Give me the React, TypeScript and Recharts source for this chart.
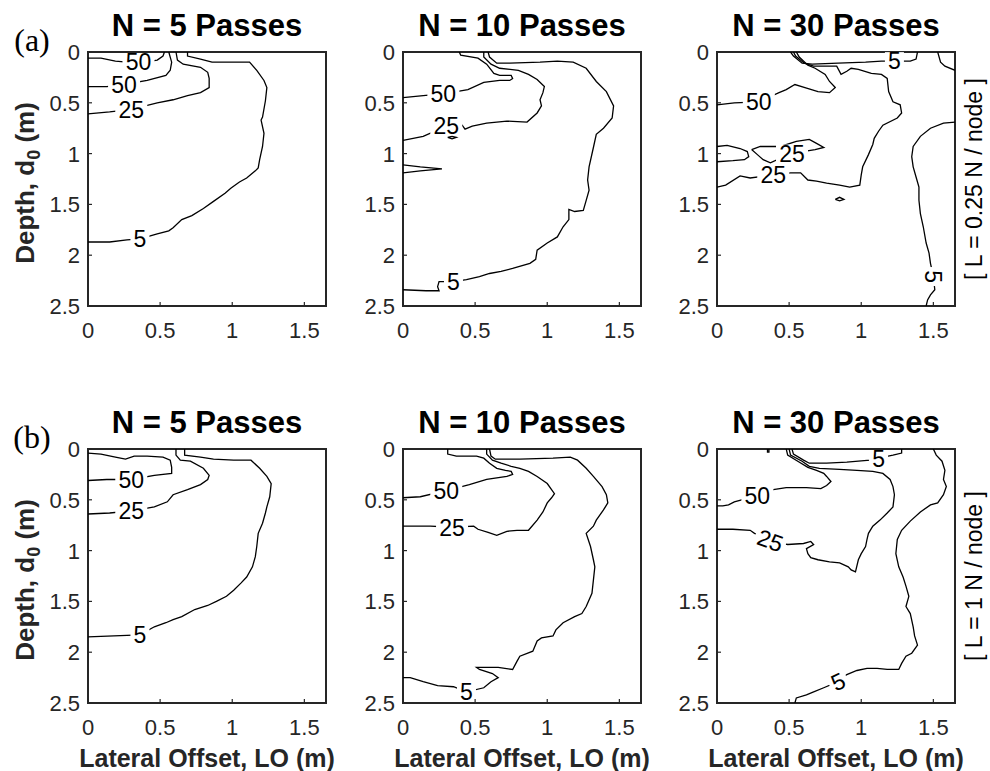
import React from 'react';
import { ReferenceArea, Scatter, ScatterChart, XAxis, YAxis } from 'recharts';

// ---- contour data, (lateral offset m, depth m) ----
const xTicks = [0, 0.5, 1, 1.5];
const yTicks = [0, 0.5, 1, 1.5, 2, 2.5];
const titles = ['N = 5 Passes', 'N = 10 Passes', 'N = 30 Passes'];
const rowTags = ['(a)', '(b)'];
const rowNotes = ['[ L = 0.25 N / node ]', '[ L = 1 N / node ]'];

// row (a), N = 5
const a1_50a = [[0, 0.06], [0.09, 0.06], [0.19, 0.09], [0.35, 0.11], [0.48, 0.08], [0.52, 0.04], [0.53, 0]];
const a1_50b = [[0.56, 0], [0.58, 0.1], [0.57, 0.18], [0.54, 0.23], [0.41, 0.28], [0.25, 0.32], [0.13, 0.34], [0, 0.34]];
const a1_25 = [[0.61, 0], [0.62, 0.08], [0.66, 0.12], [0.78, 0.15], [0.83, 0.2], [0.84, 0.26], [0.84, 0.35], [0.78, 0.4], [0.69, 0.43], [0.59, 0.47], [0.48, 0.5], [0.3, 0.565], [0.15, 0.59], [0, 0.61]];
const a1_5 = [[0.69, 0], [0.69, 0.04], [0.78, 0.07], [0.86, 0.1], [1.01, 0.1], [1.12, 0.1], [1.17, 0.18], [1.22, 0.28], [1.24, 0.35], [1.23, 0.48], [1.21, 0.64], [1.2, 0.67], [1.22, 0.8], [1.21, 0.93], [1.19, 1.06], [1.18, 1.14], [1.16, 1.17], [1.1, 1.24], [1.05, 1.28], [0.99, 1.34], [0.95, 1.39], [0.87, 1.47], [0.8, 1.54], [0.72, 1.61], [0.65, 1.65], [0.59, 1.73], [0.56, 1.76], [0.48, 1.79], [0.36, 1.84], [0.27, 1.85], [0.15, 1.87], [0, 1.87]];
const a1_labels = [[0.35, 0.1, '50', 0], [0.25, 0.32, '50', 0], [0.3, 0.565, '25', 0], [0.36, 1.84, '5', 0]];

// row (a), N = 10
const a2_50 = [[0.39, 0], [0.4, 0.03], [0.52, 0.06], [0.58, 0.12], [0.63, 0.21], [0.67, 0.23], [0.75, 0.23], [0.76, 0.26], [0.74, 0.28], [0.67, 0.28], [0.56, 0.3], [0.45, 0.37], [0.29, 0.41], [0.14, 0.43], [0, 0.45]];
const a2_25 = [[0.56, 0], [0.56, 0.05], [0.61, 0.12], [0.67, 0.16], [0.8, 0.18], [0.87, 0.22], [0.93, 0.27], [0.98, 0.34], [0.97, 0.4], [0.95, 0.47], [0.96, 0.53], [0.93, 0.6], [0.86, 0.69], [0.72, 0.68], [0.58, 0.7], [0.48, 0.73], [0.43, 0.76], [0.41, 0.72], [0.3, 0.73], [0.14, 0.83], [0, 0.87]];
const a2_loop = [[0.31, 0.84], [0.34, 0.83], [0.37, 0.84], [0.34, 0.855], [0.31, 0.84]];
const a2_spike = [[0, 1.11], [0.12, 1.13], [0.27, 1.15], [0.12, 1.17], [0, 1.19]];
const a2_5 = [[0.59, 0], [0.6, 0.05], [0.65, 0.11], [0.74, 0.11], [0.95, 0.1], [1.07, 0.09], [1.18, 0.1], [1.27, 0.16], [1.34, 0.29], [1.41, 0.39], [1.46, 0.53], [1.45, 0.65], [1.39, 0.75], [1.34, 0.81], [1.32, 0.94], [1.29, 1.13], [1.28, 1.26], [1.29, 1.36], [1.27, 1.46], [1.25, 1.56], [1.19, 1.57], [1.15, 1.55], [1.15, 1.65], [1.11, 1.72], [1.07, 1.82], [1, 1.88], [0.93, 1.95], [0.92, 2.04], [0.88, 2.08], [0.76, 2.13], [0.68, 2.16], [0.6, 2.18], [0.53, 2.21], [0.44, 2.24], [0.35, 2.26], [0.25, 2.26], [0.24, 2.31], [0.25, 2.35], [0.16, 2.35], [0, 2.34]];
const a2_labels = [[0.28, 0.41, '50', 0], [0.3, 0.73, '25', 0], [0.35, 2.26, '5', 0]];

// row (a), N = 30
const a3_5a = [[0.51, 0], [0.53, 0.04], [0.59, 0.11], [0.66, 0.12], [0.84, 0.11], [1.03, 0.1], [1.14, 0.09], [1.23, 0.09], [1.34, 0.09], [1.38, 0.07], [1.39, 0]];
const a3_25 = [[0.53, 0], [0.545, 0.04], [0.605, 0.11], [0.67, 0.14], [0.83, 0.14], [0.86, 0.22], [0.9, 0.19], [0.93, 0.16], [0.98, 0.17], [1.07, 0.21], [1.14, 0.22], [1.18, 0.26], [1.19, 0.39], [1.22, 0.49], [1.27, 0.52], [1.28, 0.6], [1.25, 0.65], [1.15, 0.72], [1.12, 0.78], [1.09, 0.85], [1.08, 0.91], [1.05, 1.01], [1.01, 1.13], [1, 1.21], [0.99, 1.31], [0.92, 1.33], [0.85, 1.31], [0.76, 1.29], [0.69, 1.27], [0.63, 1.26], [0.58, 1.19], [0.51, 1.19], [0.39, 1.21], [0.23, 1.24], [0.16, 1.22], [0.06, 1.31], [0, 1.33]];
const a3_50 = [[0, 0.52], [0.12, 0.5], [0.29, 0.49], [0.43, 0.4], [0.48, 0.37], [0.54, 0.32], [0.61, 0.35], [0.7, 0.39], [0.78, 0.4], [0.82, 0.35], [0.78, 0.29], [0.75, 0.22], [0.68, 0.16], [0.63, 0.13], [0.57, 0.05], [0.55, 0]];
const a3_loop = [[0.24, 0.96], [0.3, 0.93], [0.44, 0.93], [0.55, 0.88], [0.64, 0.86], [0.69, 0.9], [0.74, 0.94], [0.68, 0.96], [0.51, 1.0], [0.37, 1.09], [0.32, 1.06], [0.28, 1.01], [0.24, 0.96]];
const a3_left = [[0, 0.93], [0.07, 0.92], [0.16, 0.95], [0.21, 0.98], [0.22, 1.03], [0.19, 1.06], [0.11, 1.07], [0, 1.08]];
const a3_dot = [[0.82, 1.45], [0.85, 1.43], [0.88, 1.45], [0.85, 1.465], [0.82, 1.45]];
const a3_5top = [[1.53, 0], [1.55, 0.1], [1.58, 0.14], [1.65, 0.18]];
const a3_5right = [[1.65, 0.69], [1.57, 0.7], [1.48, 0.75], [1.41, 0.83], [1.36, 0.93], [1.35, 1.03], [1.36, 1.13], [1.38, 1.23], [1.4, 1.33], [1.4, 1.46], [1.41, 1.59], [1.43, 1.72], [1.45, 1.88], [1.47, 1.98], [1.48, 2.08], [1.5, 2.21], [1.51, 2.34], [1.48, 2.39], [1.46, 2.44], [1.45, 2.5]];
const a3_labels = [[1.23, 0.09, '5', 0], [0.29, 0.49, '50', 0], [0.52, 1.0, '25', 0], [0.39, 1.21, '25', 0], [1.5, 2.21, '5', 90]];

// row (b), N = 5
const b1_50 = [[0, 0.04], [0.09, 0.05], [0.19, 0.08], [0.26, 0.1], [0.32, 0.07], [0.41, 0.07], [0.52, 0.08], [0.57, 0.11], [0.58, 0.18], [0.58, 0.24], [0.46, 0.26], [0.3, 0.3], [0.13, 0.3], [0, 0.31]];
const b1_25 = [[0.61, 0], [0.61, 0.06], [0.64, 0.11], [0.71, 0.12], [0.8, 0.19], [0.84, 0.26], [0.83, 0.3], [0.78, 0.35], [0.69, 0.4], [0.59, 0.45], [0.55, 0.52], [0.46, 0.57], [0.3, 0.61], [0.15, 0.63], [0, 0.64]];
const b1_5 = [[0.67, 0], [0.67, 0.06], [0.78, 0.08], [0.87, 0.1], [1.01, 0.11], [1.13, 0.11], [1.19, 0.19], [1.24, 0.27], [1.27, 0.34], [1.26, 0.47], [1.24, 0.57], [1.23, 0.63], [1.21, 0.73], [1.18, 0.83], [1.17, 0.96], [1.16, 1.06], [1.14, 1.16], [1.1, 1.26], [1.06, 1.32], [1.01, 1.39], [0.96, 1.45], [0.89, 1.5], [0.83, 1.54], [0.74, 1.58], [0.65, 1.65], [0.59, 1.68], [0.54, 1.71], [0.46, 1.75], [0.36, 1.83], [0.18, 1.84], [0, 1.85]];
const b1_labels = [[0.3, 0.3, '50', 0], [0.3, 0.61, '25', 0], [0.36, 1.83, '5', 0]];

// row (b), N = 10
const b2_50 = [[0.31, 0], [0.31, 0.05], [0.37, 0.07], [0.51, 0.07], [0.56, 0.09], [0.6, 0.14], [0.65, 0.19], [0.71, 0.21], [0.75, 0.22], [0.76, 0.25], [0.72, 0.27], [0.58, 0.3], [0.46, 0.35], [0.3, 0.41], [0.12, 0.47], [0, 0.48]];
const b2_25 = [[0.58, 0], [0.58, 0.05], [0.62, 0.11], [0.68, 0.14], [0.75, 0.17], [0.81, 0.19], [0.87, 0.22], [0.93, 0.27], [1, 0.34], [1.05, 0.44], [1.03, 0.48], [1, 0.53], [0.97, 0.62], [0.93, 0.7], [0.87, 0.8], [0.79, 0.8], [0.72, 0.81], [0.65, 0.85], [0.59, 0.82], [0.52, 0.79], [0.49, 0.76], [0.34, 0.77], [0.19, 0.76], [0, 0.76]];
const b2_5 = [[0.6, 0], [0.61, 0.07], [0.64, 0.1], [0.81, 0.1], [1.04, 0.09], [1.16, 0.08], [1.21, 0.11], [1.27, 0.19], [1.32, 0.27], [1.38, 0.37], [1.41, 0.45], [1.42, 0.53], [1.39, 0.6], [1.34, 0.7], [1.32, 0.76], [1.27, 0.83], [1.3, 0.96], [1.32, 1.09], [1.33, 1.16], [1.32, 1.29], [1.31, 1.42], [1.27, 1.55], [1.24, 1.62], [1.19, 1.65], [1.11, 1.71], [1.06, 1.78], [1.04, 1.84], [0.96, 1.86], [0.93, 1.89], [0.9, 1.99], [0.81, 2.04], [0.79, 2.09], [0.76, 2.17], [0.66, 2.15], [0.51, 2.15], [0.53, 2.17], [0.62, 2.21], [0.66, 2.25], [0.61, 2.29], [0.56, 2.35], [0.44, 2.39], [0.35, 2.34], [0.24, 2.33], [0.14, 2.29], [0.05, 2.25], [0, 2.25]];
const b2_labels = [[0.3, 0.41, '50', 0], [0.34, 0.77, '25', 0], [0.44, 2.39, '5', 0]];

// row (b), N = 30
const b3_5a = [[0.52, 0], [0.53, 0.05], [0.6, 0.11], [0.64, 0.14], [0.76, 0.14], [0.9, 0.13], [1.06, 0.11], [1.12, 0.09], [1.22, 0.06], [1.28, 0.04], [1.28, 0]];
const b3_25 = [[0.5, 0], [0.51, 0.06], [0.59, 0.12], [0.64, 0.17], [0.71, 0.19], [0.85, 0.2], [0.97, 0.21], [1.08, 0.22], [1.15, 0.24], [1.2, 0.3], [1.22, 0.37], [1.23, 0.45], [1.22, 0.57], [1.18, 0.63], [1.13, 0.7], [1.08, 0.76], [1.05, 0.83], [1.04, 0.89], [1.03, 0.96], [1, 1.03], [0.98, 1.09], [0.96, 1.21], [0.93, 1.19], [0.91, 1.16], [0.85, 1.12], [0.78, 1.11], [0.7, 1.09], [0.65, 1.07], [0.63, 1.03], [0.62, 0.98], [0.67, 0.94], [0.65, 0.91], [0.6, 0.93], [0.49, 0.94], [0.37, 0.9], [0.26, 0.83], [0.23, 0.8], [0.11, 0.79], [0, 0.79]];
const b3_50 = [[0.48, 0], [0.49, 0.06], [0.56, 0.12], [0.63, 0.18], [0.69, 0.21], [0.74, 0.24], [0.76, 0.27], [0.79, 0.32], [0.76, 0.36], [0.72, 0.39], [0.62, 0.38], [0.48, 0.38], [0.39, 0.4], [0.28, 0.46], [0.12, 0.52], [0.08, 0.55], [0.04, 0.56], [0, 0.56]];
const b3_nub = [[0.35, 0], [0.35, 0.03], [0.36, 0.03], [0.36, 0]];
const b3_5b = [[1.5, 0], [1.52, 0.06], [1.56, 0.12], [1.58, 0.21], [1.57, 0.3], [1.59, 0.37], [1.57, 0.45], [1.53, 0.53], [1.48, 0.55], [1.41, 0.62], [1.34, 0.71], [1.28, 0.8], [1.25, 0.89], [1.24, 1.03], [1.26, 1.16], [1.29, 1.26], [1.31, 1.35], [1.33, 1.45], [1.31, 1.55], [1.34, 1.62], [1.36, 1.75], [1.37, 1.84], [1.39, 1.93], [1.35, 2.01], [1.31, 2.04], [1.28, 2.11], [1.26, 2.17], [1.18, 2.17], [1.11, 2.16], [1.04, 2.16], [0.97, 2.18], [0.9, 2.22], [0.84, 2.29], [0.74, 2.35], [0.67, 2.39], [0.62, 2.42], [0.55, 2.45], [0.54, 2.5]];
const b3_labels = [[1.12, 0.1, '5', 0], [0.28, 0.46, '50', 0], [0.37, 0.9, '25', 20], [0.84, 2.29, '5', -25]];

const FONT = '"Liberation Sans", Arial, Helvetica, sans-serif';
const AXIS = '#262626';
const PW = 238;
const PH = 254;
const colLeft = [88, 403, 717];
const rowTop = [52, 449];

const toPts = (a: number[][]) => a.map(([x, y]) => ({ x, y }));
const toLabels = (a: any[][]) => a.map(([x, y, text, angle]) => ({ x, y, text, angle }));

const panels = [
  { lines: [a1_50a, a1_50b, a1_25, a1_5], labels: a1_labels },
  { lines: [a2_50, a2_25, a2_loop, a2_spike, a2_5], labels: a2_labels },
  { lines: [a3_5a, a3_25, a3_50, a3_loop, a3_left, a3_dot, a3_5top, a3_5right], labels: a3_labels },
  { lines: [b1_50, b1_25, b1_5], labels: b1_labels },
  { lines: [b2_50, b2_25, b2_5], labels: b2_labels },
  { lines: [b3_5a, b3_25, b3_50, b3_nub, b3_5b], labels: b3_labels },
];

const NoDot = () => <g />;

const ContourLabel = (props: any) => {
  const { cx, cy, payload } = props;
  const fs = 23;
  const w = payload.text.length * 13 + 6;
  return (
    <g transform={`rotate(${payload.angle} ${cx} ${cy})`}>
      <rect x={cx - w / 2} y={cy - 9} width={w} height={18} fill="#fff" />
      <text x={cx} y={cy + fs * 0.36} textAnchor="middle" fontSize={fs} fontFamily={FONT} fill="#000">
        {payload.text}
      </text>
    </g>
  );
};

// MATLAB-style inward ticks; x/y arrive at the axis line (tickSize and tickMargin are 0)
const TICK = 4;
const BottomTick = ({ x, y, payload }: any) => (
  <g>
    <line x1={x} y1={y} x2={x} y2={y - TICK} stroke={AXIS} strokeWidth={1.2} />
    <text x={x} y={y + 32} textAnchor="middle" fontSize={22} fontFamily={FONT} fill={AXIS}>{String(payload.value)}</text>
  </g>
);
const LeftTick = ({ x, y, payload }: any) => (
  <g>
    <line x1={x} y1={y} x2={x + TICK} y2={y} stroke={AXIS} strokeWidth={1.2} />
    <text x={x - 8} y={y + 8} textAnchor="end" fontSize={22} fontFamily={FONT} fill={AXIS}>{String(payload.value)}</text>
  </g>
);
const TopTick = ({ x, y }: any) => <line x1={x} y1={y} x2={x} y2={y + TICK} stroke={AXIS} strokeWidth={1.2} />;
const RightTick = ({ x, y }: any) => <line x1={x} y1={y} x2={x - TICK} y2={y} stroke={AXIS} strokeWidth={1.2} />;

function Panel({ left, top, lines, labels }: { left: number; top: number; lines: number[][][]; labels: any[][] }) {
  return (
    <div style={{ position: 'absolute', left: left - 60, top: top - 20 }}>
      <ScatterChart width={60 + PW + 12} height={20 + PH + 44} margin={{ top: 20, right: 12, bottom: 0, left: 0 }}>
        <XAxis xAxisId="b" type="number" dataKey="x" domain={[0, 1.65]} ticks={xTicks} interval={0} allowDataOverflow
          height={44} tickSize={0} tickMargin={0} axisLine={false} tickLine={false} tick={<BottomTick />} />
        <XAxis xAxisId="t" orientation="top" type="number" dataKey="x" domain={[0, 1.65]} ticks={xTicks} interval={0} allowDataOverflow
          height={0} tickSize={0} tickMargin={0} axisLine={false} tickLine={false} tick={<TopTick />} />
        <YAxis yAxisId="l" type="number" dataKey="y" domain={[0, 2.5]} ticks={yTicks} interval={0} reversed allowDataOverflow
          width={60} tickSize={0} tickMargin={0} axisLine={false} tickLine={false} tick={<LeftTick />} />
        <YAxis yAxisId="r" orientation="right" type="number" dataKey="y" domain={[0, 2.5]} ticks={yTicks} interval={0} reversed allowDataOverflow
          width={0} tickSize={0} tickMargin={0} axisLine={false} tickLine={false} tick={<RightTick />} />
        {lines.map((ln, i) => (
          <Scatter key={i} xAxisId="b" yAxisId="l" data={toPts(ln)} fill="#000" shape={NoDot}
            line={{ stroke: '#000', strokeWidth: 1.3 }} isAnimationActive={false} legendType="none" />
        ))}
        <Scatter xAxisId="b" yAxisId="l" data={toLabels(labels)} shape={ContourLabel} isAnimationActive={false} legendType="none" />
        <ReferenceArea xAxisId="b" yAxisId="l" x1={0} x2={1.65} y1={0} y2={2.5} fill="none" stroke={AXIS} strokeWidth={2} ifOverflow="visible" />
      </ScatterChart>
    </div>
  );
}

export default function App() {
  return (
    <div style={{ position: 'absolute', left: 0, top: 0, width: 990, height: 771, background: '#fff' }}>
      {panels.map((p, i) => (
        <Panel key={i} left={colLeft[i % 3]} top={rowTop[Math.floor(i / 3)]} lines={p.lines} labels={p.labels} />
      ))}
      <svg width={990} height={771} style={{ position: 'absolute', left: 0, top: 0, pointerEvents: 'none' }}>
        {rowTop.map((t, r) => (
          <g key={r}>
            {titles.map((s, c) => (
              <text key={c} x={colLeft[c] + PW / 2} y={t - 16} textAnchor="middle" fontSize={31} fontWeight="bold" fontFamily={FONT} fill="#000">{s}</text>
            ))}
            <text x={32} y={t - 1} textAnchor="middle" fontSize={32} fontFamily='"Liberation Serif", "Times New Roman", serif' fill="#000">{rowTags[r]}</text>
            <text transform={`translate(34 ${t + PH / 2 + 4}) rotate(-90)`} textAnchor="middle" fontSize={26} fontWeight="bold" fontFamily={FONT} fill={AXIS}>
              Depth, d<tspan fontSize={18} dy={6}>0</tspan><tspan dy={-6}> (m)</tspan>
            </text>
            <text transform={`translate(982 ${t + PH / 2}) rotate(-90)`} textAnchor="middle" fontSize={23} fontFamily={FONT} fill="#000">{rowNotes[r]}</text>
          </g>
        ))}
        {colLeft.map((l, c) => (
          <text key={c} x={l + PW / 2} y={767} textAnchor="middle" fontSize={25} fontWeight="bold" fontFamily={FONT} fill={AXIS}>Lateral Offset, LO (m)</text>
        ))}
      </svg>
    </div>
  );
}
